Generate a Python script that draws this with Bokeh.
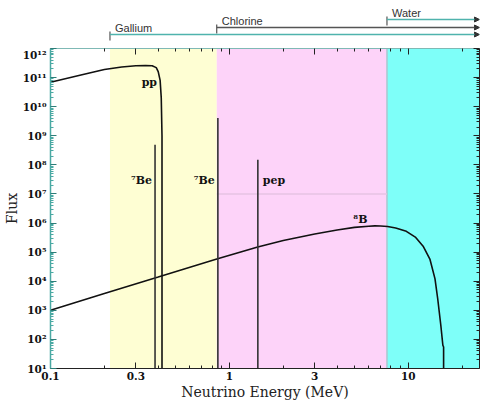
from bokeh.plotting import figure
from bokeh.layouts import column
from bokeh.models import Range1d, FixedTicker, LogAxis, ColumnDataSource, Arrow, NormalHead
from bokeh.embed import file_html
from bokeh.resources import INLINE
from bokeh.core.properties import value

# ---------------- data ----------------
pp_energy = [0.1, 0.15, 0.2, 0.25, 0.3, 0.34, 0.37, 0.39, 0.40, 0.41, 0.416, 0.42, 0.42]
pp_flux = [6.9e10, 1.25e11, 1.9e11, 2.3e11, 2.55e11, 2.6e11, 2.55e11, 2.2e11, 1.6e11,
           8e10, 2e10, 1e9, 10]

b8_energy = [0.1, 0.2, 0.4, 0.85, 1.44, 2.0, 3.0, 4.0, 5.0, 6.0, 6.5, 7.0, 7.66, 8.5,
             9.75, 11.0, 12.1, 13.2, 14.1, 14.6, 15.2, 15.6, 15.75, 15.75]
b8_flux = [1e3, 3.8e3, 1.4e4, 5.8e4, 1.5e5, 2.5e5, 4.2e5, 5.8e5, 7.1e5, 7.8e5, 8e5, 7.9e5,
           7.6e5, 6.8e5, 5.2e5, 3.2e5, 1.6e5, 5.8e4, 1.2e4, 2.5e3, 300, 63, 55, 10]

line_names = ["\u2077Be", "\u2077Be", "pep"]
line_energy = [0.384, 0.862, 1.442]
line_flux = [4.9e8, 4.1e9, 1.5e8]

detectors = ["Gallium", "Chlorine", "Water"]
detector_threshold = [0.215, 0.85, 7.6]
region_colors = ["#fefed3", "#fdd3f9", "#7efff9"]
detector_colors = ["#4fb3ad", "#555555", "#4fb3ad"]

ref_level = [1e7]

x_ticks = [0.1, 0.3, 1, 3, 10]
x_tick_labels = ["0.1", "0.3", "1", "3", "10"]
x_minor = [0.2, 0.4, 0.5, 0.6, 0.7, 0.8, 0.9, 2, 4, 5, 6, 7, 8, 9, 20]
y_ticks = [10 ** k for k in range(1, 13)]
sup = str.maketrans("0123456789", "\u2070\u00b9\u00b2\u00b3\u2074\u2075\u2076\u2077\u2078\u2079")
y_tick_labels = ["10" + str(k).translate(sup) for k in range(1, 13)]
y_minor = [m * 10 ** k for k in range(1, 12) for m in range(2, 10)]

XMIN, XMAX = 0.1, 25
YMIN, YMAX = 10, 1e12

# ---------------- layout constants ----------------
W = 480
LEFT = 45
RIGHT = 1
TOP_H = 48
MAIN_H = 354
SERIF = "DejaVu Serif"
SANS = "Liberation Sans"
TEAL = "#4aa9a3"
DARK = "#222222"

xr = Range1d(XMIN, XMAX)

# ---------------- top strip: detector thresholds ----------------
top = figure(width=W, height=TOP_H, x_axis_type="log", x_range=xr,
             y_range=Range1d(0, TOP_H), output_backend="svg", toolbar_location=None,
             x_axis_location=None, y_axis_location=None,
             min_border_left=LEFT, min_border_right=RIGHT,
             min_border_top=0, min_border_bottom=0, outline_line_color=None)
top.grid.visible = False
levels = [14, 21, 29]
for name, thr, col, lev in zip(detectors, detector_threshold, detector_colors, levels):
    src = ColumnDataSource(dict(x0=[thr], x1=[XMAX], y=[lev]))
    top.add_layout(Arrow(source=src, x_start="x0", y_start="y", x_end="x1", y_end="y",
                         line_color=col, line_width=1.5,
                         end=NormalHead(size=5, fill_color="#333333", line_color="#333333")))
    top.segment(x0=[thr], x1=[thr], y0=[lev + 3], y1=[lev - 6], line_color="#333333",
                line_width=1)
    top.text(x=[thr], y=[lev + 7], text=[name], x_offset=5, text_baseline="middle",
             text_align="left", text_font=value(SANS), text_font_size="11px",
             text_color="#333333")

# ---------------- main plot ----------------
p = figure(width=W, height=MAIN_H, x_axis_type="log", y_axis_type="log", x_range=xr,
           y_range=Range1d(YMIN, YMAX), output_backend="svg", toolbar_location=None,
           min_border_left=LEFT, min_border_right=RIGHT, min_border_top=0,
           min_border_bottom=0, outline_line_color=None)
p.grid.visible = False

region_right = detector_threshold[1:] + [XMAX]
p.quad(left=detector_threshold, right=region_right, bottom=YMIN, top=YMAX,
       fill_color=region_colors, line_color=None)
p.segment(x0=[detector_threshold[2]], x1=[detector_threshold[2]], y0=[YMIN], y1=[YMAX],
          line_color="#a9c7cf", line_width=1.5)
p.segment(x0=[detector_threshold[1]], x1=[detector_threshold[2]], y0=ref_level,
          y1=ref_level, line_color="#e6c3e3", line_width=1.5)

p.line(pp_energy, pp_flux, line_color="#111111", line_width=1.6)
p.line(b8_energy, b8_flux, line_color="#111111", line_width=1.6)
p.segment(x0=line_energy, x1=line_energy, y0=[YMIN] * 3, y1=line_flux,
          line_color="#333333", line_width=1.6)

lab_style = dict(text_font=value(SERIF), text_font_size="11px", text_font_style="bold",
                 text_color="#111111", text_baseline="middle")
p.text(x=[line_energy[0]], y=[3e7], text=[line_names[0]], x_offset=-3, text_align="right",
       **lab_style)
p.text(x=[line_energy[1]], y=[3e7], text=[line_names[1]], x_offset=-3, text_align="right",
       **lab_style)
p.text(x=[line_energy[2]], y=[3e7], text=[line_names[2]], x_offset=5, text_align="left",
       **lab_style)
p.text(x=[0.357], y=[7e10], text=["pp"], text_align="center", **lab_style)
p.text(x=[5.4], y=[1.35e6], text=["\u2078B"], text_align="center", **lab_style)

# ---------------- axes ----------------
xt = FixedTicker(ticks=x_ticks, minor_ticks=x_minor)
yt = FixedTicker(ticks=y_ticks, minor_ticks=y_minor)
top_ax = LogAxis(ticker=xt)
right_ax = LogAxis(ticker=yt)
p.add_layout(top_ax, "above")
p.add_layout(right_ax, "right")
bottom_ax = p.below[0]
left_ax = p.left[0]
bottom_ax.ticker = xt
left_ax.ticker = yt

for ax in (bottom_ax, left_ax, top_ax, right_ax):
    ax.major_tick_in = 6
    ax.major_tick_out = 0
    ax.minor_tick_in = 3
    ax.minor_tick_out = 0
    ax.major_tick_line_color = DARK
    ax.minor_tick_line_color = DARK
    ax.axis_line_color = DARK
    ax.major_label_text_font = SERIF
    ax.major_label_text_font_size = "10.5px"
    ax.major_label_text_font_style = "bold"
    ax.major_label_text_color = "#111111"
    ax.axis_label_text_font = SERIF
    ax.axis_label_text_font_size = "14px"
    ax.axis_label_text_font_style = "normal"
    ax.axis_label_text_color = DARK

# mirrored axes: ticks only, no labels drawn
for ax in (top_ax, right_ax):
    ax.major_label_text_color = None
    ax.major_label_text_font_size = "1px"
    ax.major_label_standoff = 0
top_ax.axis_line_color = "#7fb9b5"

bottom_ax.major_label_overrides = dict(zip(x_ticks, x_tick_labels))
bottom_ax.major_label_standoff = 3
bottom_ax.axis_label = "Neutrino Energy (MeV)"
bottom_ax.axis_label_standoff = 1
left_ax.major_label_overrides = dict(zip(y_ticks, y_tick_labels))
left_ax.major_label_standoff = 4
left_ax.axis_label = "Flux"
left_ax.axis_label_standoff = 0
left_ax.axis_line_color = TEAL
left_ax.axis_line_width = 1.5
left_ax.minor_tick_line_color = TEAL
left_ax.major_tick_line_color = "#2d7d78"

layout = column(top, p, spacing=0)
open("out.html", "w").write(file_html(layout, INLINE))
